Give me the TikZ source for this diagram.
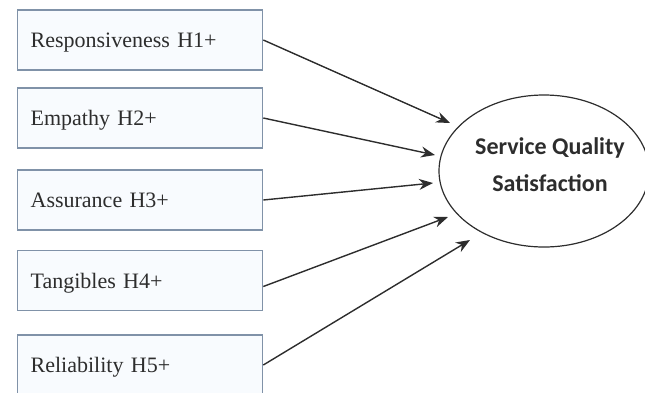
\documentclass[tikz,border=0pt]{standalone}
\usepackage{fontspec}
\setmainfont{Liberation Serif}
\newfontfamily\calfont{Carlito}
\usepackage{tikz}
\usetikzlibrary{positioning,shapes,arrows.meta}
\usepackage{xcolor}
\definecolor{boxline}{RGB}{128,146,168}
\definecolor{boxfill}{RGB}{248,251,254}
\definecolor{inktext}{RGB}{45,45,45}

\begin{document}
\begin{tikzpicture}[x=1pt,y=-1pt,
            factor/.style={rectangle,draw=boxline,fill=boxfill,line width=1.3pt,anchor=west,minimum height=60pt,text width=219pt,inner xsep=13pt,align=left,text height=15pt,text depth=0pt,text=inktext,font=\fontsize{22}{26}\selectfont},
            outcome/.style={ellipse,draw=inktext,line width=1.2pt,minimum width=210pt,minimum height=152pt,inner sep=0pt},
            outtext/.style={align=center,text=inktext,font=\calfont\bfseries\fontsize{24}{37}\selectfont},
            link/.style={-{Stealth[length=14pt,width=11pt]},line width=1.4pt,draw=inktext}]

            \useasboundingbox (0,0) rectangle (645,392);

            % the five hypothesised factors
            \node[factor] (resp) at (17,40)    {Responsiveness H1+};
            \node[factor] (emp)  at (17,118)   {Empathy H2+};
            \node[factor] (ass)  at (17,200)   {Assurance H3+};
            \node[factor] (tan)  at (17,280.5) {Tangibles H4+};
            \node[factor] (rel)  at (17,365)   {Reliability H5+};

            % the outcome
            \node[outcome] (sqs) at (544,171) {};
            \node[outtext] (sqslabel) at (550,165) {Service Quality\\Satisfaction};

            \coordinate (in1) at (450,123);
            \coordinate (in2) at (435,155);
            \coordinate (in3) at (433,183);
            \coordinate (in4) at (448,217);
            \coordinate (in5) at (470,240);

            \draw[link] (resp.east) -- (in1);
            \draw[link] (emp.east) -- (in2);
            \draw[link] (ass.east) -- (in3);
            \draw[link] ([yshift=-6pt]tan.east) -- (in4);
            \draw[link] (rel.east) -- (in5);
         \end{tikzpicture}
\end{document}
